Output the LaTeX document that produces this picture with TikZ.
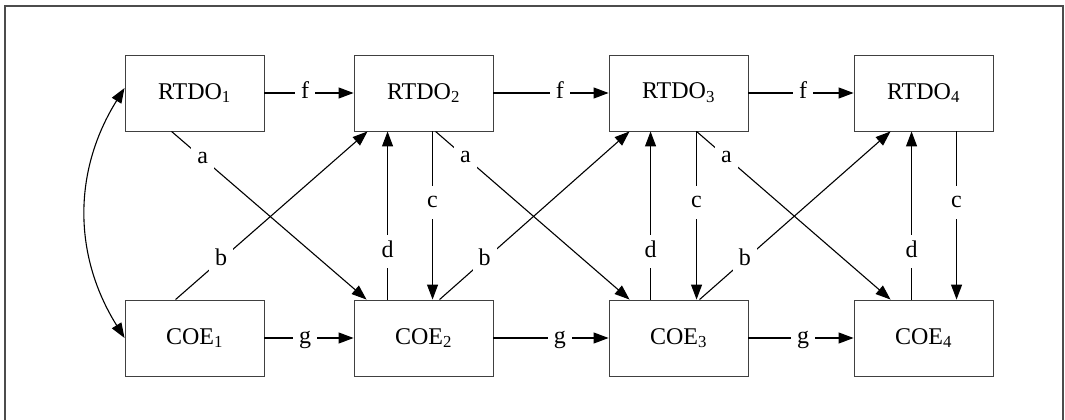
\documentclass[tikz,border=0pt]{standalone}
\usepackage{fontspec}
\setmainfont{Liberation Serif}
\usetikzlibrary{arrows.meta}
\begin{document}
\begin{tikzpicture}[x=1pt,y=-1pt,
 box/.style={draw=black!75, line width=0.9pt, minimum width=139pt, minimum height=76pt, inner sep=0pt, font=\fontsize{24}{28}\selectfont},
 tip/.tip={Triangle[length=15pt,width=11pt]},
 conn/.style={line width=1.1pt, -tip},
 lab/.style={fill=white, inner sep=6pt, text height=16pt, text depth=5pt, font=\fontsize{24}{28}\selectfont}
]
\useasboundingbox (0,0) rectangle (1065,420);
\draw[line width=1.4pt, black!70] (5,422) -- (5,6) -- (1063,6) -- (1063,422);

\node[box] (r1) at (194.5,93) {RTDO\textsubscript{1}};
\node[box] (r2) at (423.5,93) {RTDO\textsubscript{2}};
\node[box] (r3) at (678.5,93) {RTDO\textsubscript{3}};
\node[box] (r4) at (923.5,93) {RTDO\textsubscript{4}};
\node[box] (c1) at (194.5,338) {COE\textsubscript{1}};
\node[box] (c2) at (423.5,338) {COE\textsubscript{2}};
\node[box] (c3) at (678.5,338) {COE\textsubscript{3}};
\node[box] (c4) at (923.5,338) {COE\textsubscript{4}};

% horizontal f and g
\draw[conn] (r1.east) -- node[lab,pos=.456]{f} (r2.west);
\draw[conn] (r2.east) -- node[lab,pos=.578]{f} (r3.west);
\draw[conn] (r3.east) -- node[lab,pos=.52]{f} (r4.west);
\draw[conn] (c1.east) -- node[lab,pos=.456]{g} (c2.west);
\draw[conn] (c2.east) -- node[lab,pos=.578]{g} (c3.west);
\draw[conn] (c3.east) -- node[lab,pos=.52]{g} (c4.west);

% curved double arrow
\draw[line width=1.1pt, tip-tip] ([yshift=5pt]r1.west) to[bend right=32] (c1.west);

% column 1 -> 2 diagonals
\draw[conn] ([xshift=47pt]r1.south west) -- node[lab,pos=.16]{a} ([xshift=13pt]c2.north west);
\draw[conn] ([xshift=51pt]c1.north west) -- node[lab,pos=.237]{b} ([xshift=14pt]r2.south west);

% column 2 verticals
\draw[conn] ([xshift=34pt]c2.north west) -- node[lab,pos=.284]{d} ([xshift=34pt]r2.south west);
\draw[conn] ([xshift=79pt]r2.south west) -- node[lab,pos=.42]{c} ([xshift=79pt]c2.north west);

% column 2 -> 3 diagonals
\draw[conn] ([xshift=82pt]r2.south west) -- node[lab,pos=.154]{a} ([xshift=21pt]c3.north west);
\draw[conn] ([xshift=86pt]c2.north west) -- node[lab,pos=.237]{b} ([xshift=21pt]r3.south west);

% column 3 verticals
\draw[conn] ([xshift=42pt]c3.north west) -- node[lab,pos=.284]{d} ([xshift=42pt]r3.south west);
\draw[conn] ([xshift=88pt]r3.south west) -- node[lab,pos=.42]{c} ([xshift=88pt]c3.north west);

% column 3 -> 4 diagonals
\draw[conn] ([xshift=88pt]r3.south west) -- node[lab,pos=.154]{a} ([xshift=37pt]c4.north west);
\draw[conn] ([xshift=91pt]c3.north west) -- node[lab,pos=.237]{b} ([xshift=37pt]r4.south west);

% column 4 verticals
\draw[conn] ([xshift=58pt]c4.north west) -- node[lab,pos=.284]{d} ([xshift=58pt]r4.south west);
\draw[conn] ([xshift=103pt]r4.south west) -- node[lab,pos=.42]{c} ([xshift=103pt]c4.north west);
\end{tikzpicture}
\end{document}
